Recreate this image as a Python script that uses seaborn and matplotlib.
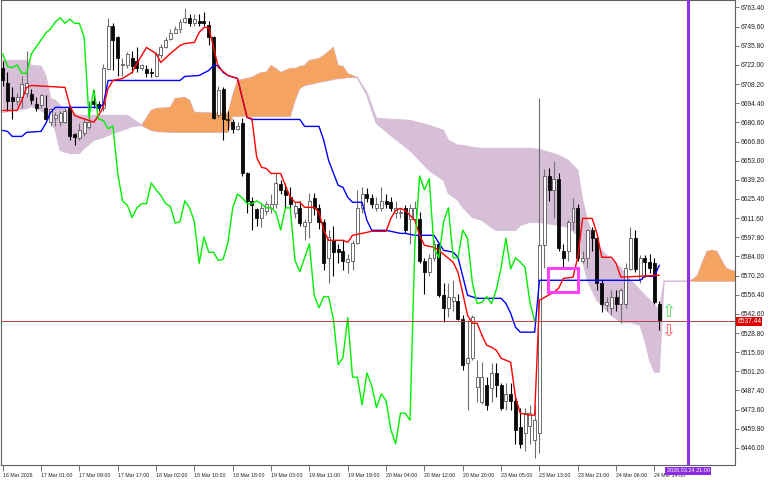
import numpy as np
import matplotlib
matplotlib.use("Agg")
import matplotlib.pyplot as plt
from matplotlib.patches import Rectangle
import matplotlib.transforms as mtransforms
import seaborn as sns

sns.set_theme(style="white")
plt.rcParams["font.family"] = ["Liberation Sans", "DejaVu Sans"]

# ---------------- candle data (hourly bars) ----------------
opens = [6720, 6709, 6699, 6696, 6699, 6702, 6701, 6694, 6693, 6691,
         6681, 6684, 6681, 6681, 6691, 6672, 6669, 6673, 6677, 6696,
         6694, 6691, 6719, 6750, 6742, 6722, 6722, 6727, 6725, 6720,
         6719, 6717, 6714, 6729, 6735, 6741, 6745, 6748, 6753, 6756,
         6752, 6754, 6754, 6751, 6742, 6686, 6705, 6683, 6681, 6676,
         6680, 6644, 6624, 6618, 6612, 6617, 6619, 6622, 6636, 6632,
         6627, 6615, 6619, 6606, 6609, 6626, 6619, 6609, 6583, 6596,
         6589, 6588, 6580, 6581, 6594, 6619, 6629, 6626, 6619, 6619,
         6624, 6623, 6615, 6615, 6619, 6611, 6611, 6611, 6581, 6573,
         6583, 6593, 6556, 6547, 6552, 6552, 6539, 6507, 6511, 6490,
         6479, 6491, 6489, 6500, 6491, 6480, 6485, 6480, 6461, 6457,
         6462, 6452, 6457, 6592, 6642, 6632, 6640, 6588, 6588, 6609,
         6619, 6581, 6583, 6603, 6597, 6565, 6549, 6547, 6555, 6550,
         6550, 6575, 6597, 6568, 6583, 6580, 6579, 6550]
highs = [6725, 6717, 6706, 6702, 6714, 6732, 6705, 6699, 6701, 6700,
         6691, 6688, 6689, 6691, 6693, 6673, 6680, 6683, 6696, 6704,
         6696, 6723, 6756, 6752, 6743, 6727, 6731, 6732, 6735, 6723,
         6722, 6720, 6731, 6737, 6742, 6748, 6750, 6755, 6763, 6759,
         6759, 6759, 6760, 6754, 6743, 6707, 6706, 6689, 6683, 6681,
         6684, 6645, 6627, 6619, 6622, 6624, 6629, 6644, 6639, 6637,
         6634, 6623, 6624, 6611, 6630, 6630, 6622, 6611, 6603, 6606,
         6593, 6596, 6586, 6596, 6632, 6634, 6633, 6629, 6627, 6634,
         6629, 6627, 6624, 6619, 6621, 6622, 6624, 6616, 6583, 6586,
         6596, 6594, 6565, 6565, 6567, 6557, 6542, 6538, 6542, 6509,
         6508, 6497, 6507, 6507, 6493, 6493, 6493, 6483, 6475, 6475,
         6477, 6477, 6698, 6647, 6648, 6653, 6644, 6593, 6610, 6626,
         6622, 6588, 6604, 6605, 6598, 6567, 6555, 6560, 6560, 6561,
         6579, 6605, 6603, 6585, 6585, 6586, 6583, 6552]
lows = [6707, 6689, 6683, 6693, 6691, 6699, 6694, 6689, 6691, 6682,
        6678, 6678, 6678, 6680, 6668, 6664, 6668, 6671, 6676, 6691,
        6689, 6689, 6718, 6718, 6714, 6714, 6720, 6716, 6717, 6718,
        6713, 6713, 6713, 6727, 6734, 6740, 6745, 6745, 6752, 6750,
        6750, 6750, 6750, 6736, 6683, 6684, 6668, 6675, 6673, 6675,
        6642, 6615, 6603, 6606, 6605, 6614, 6615, 6619, 6629, 6619,
        6619, 6612, 6606, 6596, 6597, 6614, 6604, 6574, 6565, 6570,
        6579, 6574, 6572, 6574, 6593, 6615, 6623, 6619, 6617, 6617,
        6619, 6617, 6612, 6612, 6601, 6593, 6608, 6579, 6557, 6570,
        6581, 6555, 6537, 6540, 6545, 6538, 6502, 6473, 6509, 6479,
        6478, 6473, 6479, 6483, 6473, 6473, 6473, 6449, 6446, 6444,
        6449, 6439, 6442, 6576, 6624, 6612, 6588, 6576, 6581, 6603,
        6581, 6579, 6576, 6588, 6560, 6544, 6545, 6542, 6545, 6536,
        6547, 6574, 6573, 6565, 6569, 6572, 6550, 6531]
closes = [6711, 6696, 6696, 6699, 6708, 6709, 6697, 6691, 6700, 6683,
          6690, 6686, 6687, 6689, 6671, 6670, 6675, 6681, 6681, 6694,
          6691, 6720, 6750, 6740, 6727, 6723, 6730, 6721, 6720, 6722,
          6716, 6716, 6730, 6735, 6740, 6745, 6748, 6753, 6756, 6752,
          6755, 6752, 6752, 6742, 6684, 6704, 6683, 6682, 6676, 6678,
          6644, 6624, 6621, 6612, 6619, 6622, 6622, 6637, 6632, 6628,
          6622, 6620, 6608, 6609, 6624, 6619, 6609, 6579, 6598, 6587,
          6587, 6581, 6582, 6594, 6619, 6629, 6626, 6622, 6622, 6624,
          6622, 6619, 6619, 6616, 6603, 6619, 6619, 6581, 6573, 6583,
          6593, 6556, 6547, 6555, 6555, 6539, 6506, 6511, 6540, 6497,
          6497, 6477, 6500, 6491, 6475, 6485, 6480, 6459, 6449, 6471,
          6471, 6466, 6592, 6642, 6632, 6640, 6590, 6583, 6609, 6619,
          6583, 6583, 6603, 6597, 6565, 6550, 6551, 6555, 6550, 6560,
          6576, 6597, 6575, 6583, 6580, 6576, 6551, 6537.44]

# ---------------- Ichimoku lines ----------------
tenkan_idx = [0, 3, 4, 5, 6, 13, 14, 15, 16, 18,
              19, 20, 21, 22, 23, 25, 27, 28, 30, 31,
              32, 33, 35, 37, 38, 40, 41, 42, 43, 44,
              45, 47, 49, 51, 52, 53, 54, 55, 56, 58,
              59, 60, 61, 62, 63, 65, 66, 67, 68, 71,
              72, 73, 75, 77, 80, 81, 82, 83, 84, 86,
              87, 88, 90, 91, 94, 95, 96, 97, 98, 99,
              100, 101, 102, 103, 104, 105, 106, 107, 108, 110,
              111, 112, 115, 116, 117, 119, 120, 121, 123, 124,
              125, 127, 128, 129, 137]
tenkan_val = [6689.2, 6689.2, 6696.4, 6705.8, 6707.2, 6705.8, 6692.8, 6685.6, 6684.2, 6682.0,
              6680.6, 6685.6, 6691.4, 6705.0, 6710.8, 6712.2, 6716.6, 6723.0, 6734.6, 6732.4,
              6730.2, 6723.8, 6730.2, 6736.0, 6737.4, 6738.2, 6745.4, 6749.0, 6749.0, 6734.6,
              6720.2, 6714.4, 6712.2, 6684.2, 6683.4, 6655.4, 6648.2, 6647.4, 6643.8, 6643.8,
              6635.2, 6626.6, 6623.0, 6623.0, 6619.4, 6619.4, 6615.8, 6602.8, 6595.6, 6595.6,
              6594.2, 6599.2, 6600.6, 6602.1, 6602.1, 6611.4, 6617.2, 6618.6, 6617.2, 6610.0,
              6599.2, 6592.0, 6590.6, 6588.4, 6579.8, 6572.6, 6557.4, 6541.6, 6535.8, 6535.8,
              6527.2, 6520.0, 6518.6, 6516.4, 6510.6, 6509.2, 6507.8, 6482.6, 6471.0, 6469.6,
              6469.6, 6552.4, 6558.2, 6561.0, 6568.2, 6569.0, 6583.4, 6611.4, 6611.4, 6600.6,
              6583.4, 6583.4, 6579.0, 6569.0, 6570.4]

kijun_idx = [0, 1, 2, 4, 5, 8, 9, 10, 11, 20, 21, 22,
             37, 38, 41, 43, 44, 45, 46, 47, 49, 51, 52,
             62, 63, 66, 67, 68, 70, 71, 72, 73, 75, 76, 77, 80,
             83, 84, 86, 90, 92, 94, 95, 97, 99, 104, 105, 106, 107, 108, 111, 112,
             133, 134, 136, 137]
kijun_val = [6674.8, 6674.1, 6670.5, 6670.5, 6673.4, 6674.1, 6679.8, 6687.8, 6691.4, 6691.4, 6693.5, 6710.8,
             6710.8, 6713.7, 6714.4, 6718.0, 6721.6, 6721.6, 6716.6, 6714.4, 6712.2, 6684.2, 6682.7,
             6682.7, 6677.7, 6677.7, 6667.6, 6653.2, 6635.2, 6633.8, 6626.6, 6623.0, 6623.0, 6610.0, 6602.8, 6602.8,
             6600.6, 6600.6, 6599.2, 6599.2, 6588.4, 6587.0, 6583.4, 6556.0, 6553.8, 6553.8, 6550.2, 6543.0, 6533.0, 6529.4, 6529.4, 6566.8,
             6566.8, 6569.7, 6569.7, 6577.6]

cloud_idx = [0, 5, 6, 8, 9, 10, 11, 12, 14, 16, 17, 19, 21, 23, 26, 27, 29,
             31, 32, 35, 36, 38, 39, 40, 47, 48, 49, 50, 52, 54, 55, 56, 57, 58, 60,
             61, 62, 63, 64, 66, 67, 69, 70, 71, 72, 74,
             76, 77, 78, 81, 85, 89, 92, 93, 95, 96, 98, 100, 102, 103, 107, 108, 110,
             112, 116, 118, 120, 121, 122, 124, 127, 129, 131, 133, 134, 135, 136, 137, 138, 143,
             144, 145, 146, 147, 148, 149, 150, 151, 152, 153]
span_a = [6687.8, 6690.6, 6692.1, 6689.2, 6687.0, 6682.0, 6674.8, 6660.4, 6658.2, 6658.2, 6661.8, 6667.6, 6669.8, 6672.6, 6676.2, 6677.7, 6678.4,
          6689.2, 6690.6, 6691.4, 6697.8, 6698.6, 6696.4, 6687.8, 6687.0, 6700.0, 6710.8, 6711.5, 6713.0, 6716.6, 6716.6, 6721.6, 6719.4, 6716.6, 6719.4,
          6719.4, 6720.9, 6721.6, 6725.2, 6726.6, 6728.8, 6734.6, 6721.6, 6720.9, 6715.8, 6713.0,
          6700.0, 6689.2, 6679.8, 6671.2, 6660.4, 6646.0, 6638.8, 6629.4, 6624.4, 6619.4, 6612.2, 6610.0, 6605.0, 6602.8, 6602.8, 6606.4, 6608.6,
          6608.6, 6606.4, 6605.0, 6599.2, 6581.2, 6566.8, 6552.4, 6541.6, 6536.6, 6536.6, 6534.4, 6523.6, 6509.2, 6500.6, 6500.6, 6566.1, 6566.1,
          6567.5, 6570.4, 6579.8, 6587.7, 6588.4, 6587.7, 6581.2, 6575.4, 6574.0, 6573.3]
span_b = [6725.2, 6725.2, 6721.6, 6720.9, 6714.4, 6697.8, 6696.4, 6692.8, 6687.8, 6685.6, 6685.6, 6685.6, 6685.6, 6685.6, 6685.6, 6683.4, 6678.4,
          6674.8, 6674.1, 6673.4, 6673.4, 6673.4, 6673.4, 6673.4, 6673.4, 6684.9, 6684.9, 6684.9, 6684.9, 6684.9, 6684.9, 6684.9, 6684.9, 6684.9, 6684.9,
          6696.4, 6705.0, 6707.2, 6707.9, 6709.4, 6710.1, 6711.5, 6712.2, 6712.2, 6713.0, 6713.0,
          6702.2, 6692.8, 6683.4, 6682.7, 6682.0, 6678.4, 6674.8, 6667.6, 6664.0, 6664.0, 6662.6, 6661.8, 6661.8, 6661.8, 6661.8, 6661.8, 6661.8,
          6661.1, 6656.8, 6653.2, 6646.0, 6624.4, 6610.0, 6592.0, 6581.2, 6575.4, 6566.8, 6559.6, 6556.0, 6552.4, 6548.8, 6545.2, 6566.1, 6566.1,
          6566.1, 6566.1, 6566.1, 6566.1, 6566.1, 6566.1, 6566.1, 6566.1, 6566.1, 6566.1]

# ---------------- axis texts ----------------
xtick_bars = [0, 8, 16, 24, 32, 40, 48, 56, 64, 72, 80, 88, 96, 104, 112, 120, 128, 136]
xtick_labels = ["16 Mar 2026", "17 Mar 01:00", "17 Mar 09:00", "17 Mar 17:00", "18 Mar 02:00",
                "18 Mar 10:00", "18 Mar 18:00", "19 Mar 03:00", "19 Mar 11:00", "19 Mar 19:00",
                "20 Mar 04:00", "20 Mar 12:00", "20 Mar 20:00", "23 Mar 05:00", "23 Mar 13:00",
                "23 Mar 21:00", "24 Mar 06:00", "24 Mar 14:00"]
ytick_values = [6763.40, 6749.60, 6735.80, 6722.00, 6708.20, 6694.40, 6680.60, 6666.80,
                6653.00, 6639.20, 6625.40, 6611.60, 6597.80, 6584.00, 6570.20, 6556.40,
                6542.60, 6528.80, 6515.00, 6501.20, 6487.40, 6473.60, 6459.80, 6446.00]
last_price = 6537.44
cursor_bar = 143
cursor_label = "2026.03.24 21:00"
chikou_shift = 26

# ---------------- figure ----------------
fig = plt.figure(figsize=(7.68, 4.8), dpi=100)
fig.patch.set_facecolor("white")
ax = fig.add_axes([0.0013, 0.0313, 0.9557, 0.9677])
ax.set_facecolor("white")

o = np.array(opens, float); h = np.array(highs, float)
l = np.array(lows, float); c = np.array(closes, float)
n = len(c)
idx = np.arange(n)

# cloud
ci = np.array(cloud_idx); ca = np.array(span_a); cb = np.array(span_b)
ax.plot(ci, ca, color="#D8BFD8", lw=0.9, zorder=0.9)
ax.plot(ci, cb, color="#D8BFD8", lw=0.9, zorder=0.9)
ax.fill_between(ci, ca, cb, where=ca >= cb, interpolate=True, color="#F4A460", lw=0, zorder=1)
ax.fill_between(ci, ca, cb, where=ca <= cb, interpolate=True, color="#D8BFD8", lw=0, zorder=1)

# candles
bull = c >= o
ax.vlines(idx[bull], l[bull], h[bull], colors="#707070", lw=0.8, zorder=2)
ax.vlines(idx[~bull], l[~bull], h[~bull], colors="#000000", lw=0.8, zorder=2)
bottom = np.minimum(o, c)
height = np.maximum(np.abs(c - o), 0.7)
ax.bar(idx[bull], height[bull], bottom=bottom[bull], width=0.62, color="white",
       edgecolor="#555555", linewidth=0.6, zorder=3)
ax.bar(idx[~bull], height[~bull], bottom=bottom[~bull], width=0.62, color="#0a0a0a",
       edgecolor="#0a0a0a", linewidth=0.6, zorder=3)

# ichimoku lines
sns.lineplot(x=kijun_idx, y=kijun_val, ax=ax, color="#0000ff", lw=1.0, zorder=4,
             estimator=None, sort=False)
sns.lineplot(x=tenkan_idx, y=tenkan_val, ax=ax, color="#ff0000", lw=1.0, zorder=4,
             estimator=None, sort=False)
sns.lineplot(x=idx[:n - chikou_shift], y=c[chikou_shift:], ax=ax, color="#00ee00", lw=1.0,
             zorder=4, estimator=None, sort=False)

# current price line
ax.axhline(last_price, color="#b84040", lw=0.7, zorder=5)

# magenta box
ax.add_patch(Rectangle((113.8, 6558.2), 6.3, 17.2, fill=False, edgecolor="#ff40ff",
                       lw=2.2, zorder=6))

# arrows
ax.text(138.8, 6544.0, "\u21e7", color="#55dd55", fontsize=12, ha="center", va="center",
        family="DejaVu Sans", zorder=6)
ax.text(138.8, 6530.5, "\u21e9", color="#ff5a5a", fontsize=12, ha="center", va="center",
        family="DejaVu Sans", zorder=6)

# cursor line
ax.axvline(cursor_bar, color="#9030e8", lw=2.2, zorder=7)

ax.set_xlim(-0.35, 152.8)
ax.set_ylim(6433.7, 6768.44)

# axes styling
for sp in ax.spines.values():
    sp.set_visible(True)
    sp.set_color("#606060")
    sp.set_linewidth(0.8)
ax.yaxis.tick_right()
ax.set_yticks(ytick_values)
ax.set_yticklabels([f"{v:.2f}" for v in ytick_values])
ax.set_xticks(xtick_bars)
ax.set_xticklabels(xtick_labels)
ax.tick_params(axis="x", direction="out", length=4, width=0.6, color="#606060",
               labelsize=3.8, pad=1.5, labelcolor="#202020", bottom=True)
ax.tick_params(axis="y", direction="out", length=3, width=0.6, color="#606060",
               labelsize=4.8, pad=1, labelcolor="#202020", right=True, left=False)
for lbl in ax.get_xticklabels():
    lbl.set_horizontalalignment("left")
ax.set_xlabel(""); ax.set_ylabel("")
ax.grid(False)

# price label
tr = mtransforms.blended_transform_factory(ax.transAxes, ax.transData)
ax.text(1.003, last_price, f"{last_price:.2f}", transform=tr, ha="left", va="center",
        fontsize=4.8, color="white", clip_on=False, zorder=10,
        bbox=dict(boxstyle="square,pad=0.15", fc="#dd0000", ec="none"))

# cursor time label
tr2 = mtransforms.blended_transform_factory(ax.transData, ax.transAxes)
ax.text(cursor_bar, -0.007, cursor_label, transform=tr2, ha="center", va="top",
        fontsize=4.0, color="white", clip_on=False, zorder=10,
        bbox=dict(boxstyle="square,pad=0.25", fc="#8a2be2", ec="none"))

fig.savefig("out.png", dpi=100, facecolor="white")
